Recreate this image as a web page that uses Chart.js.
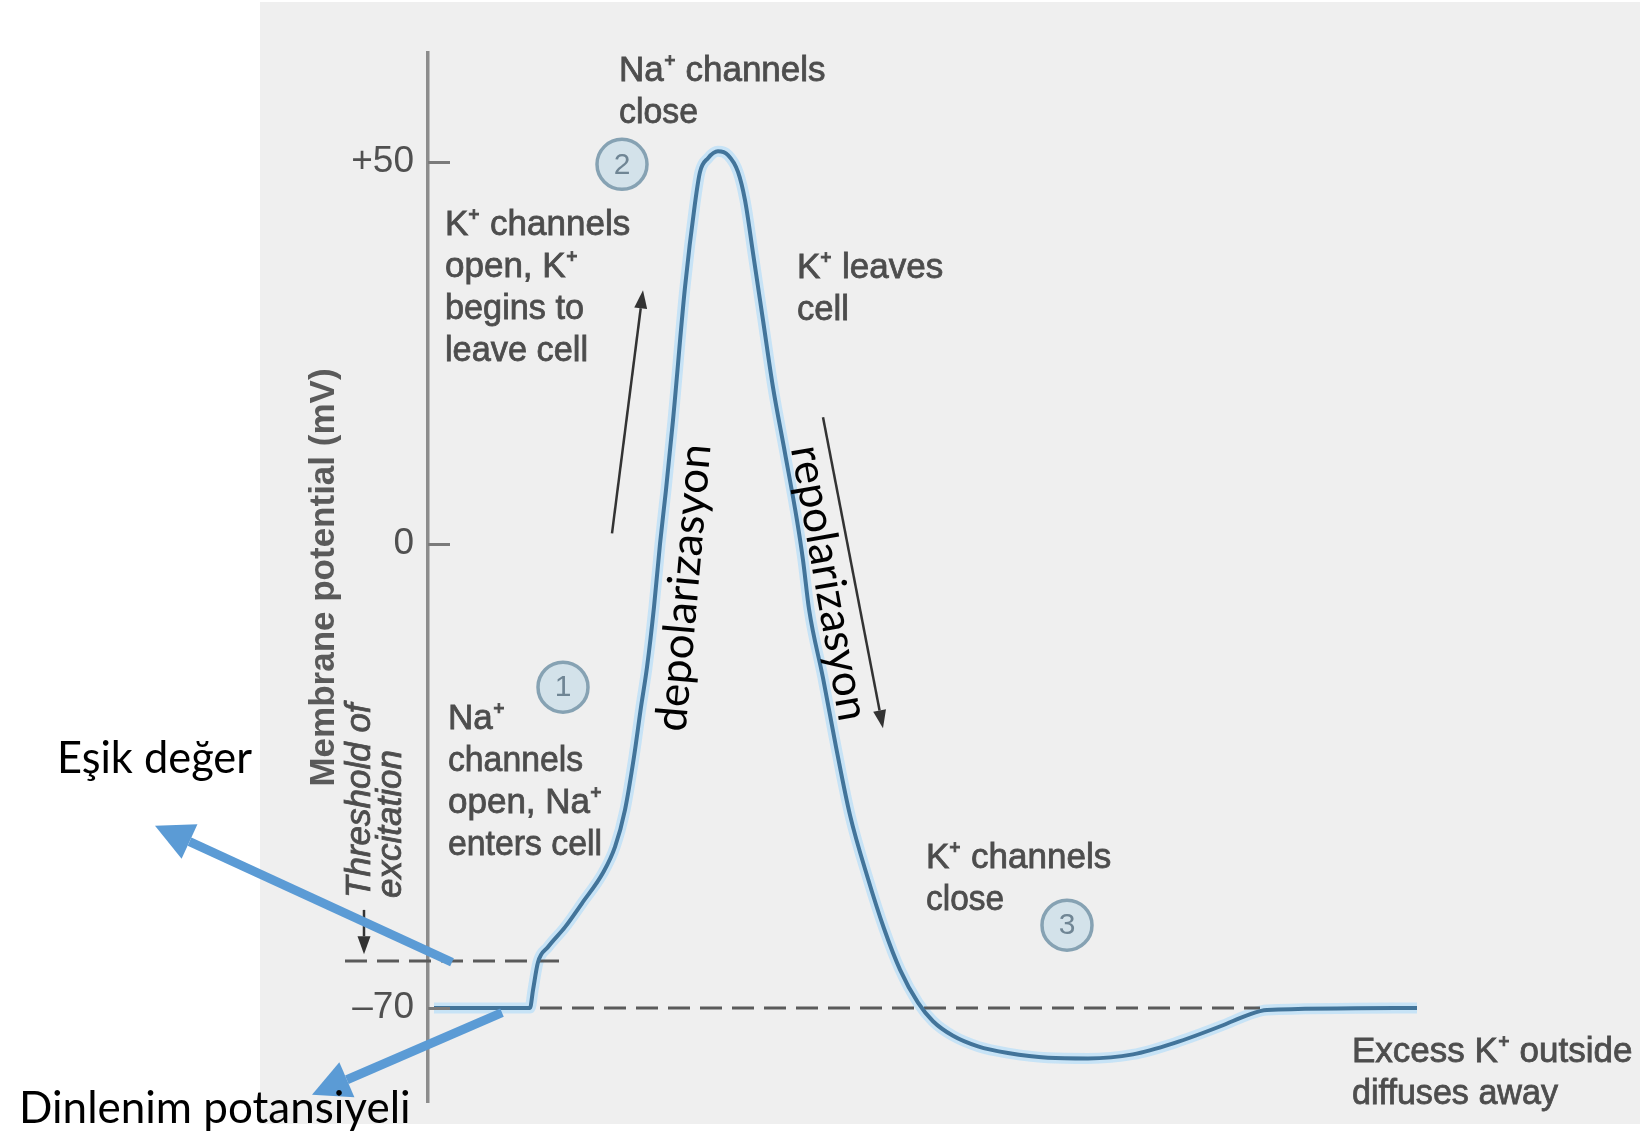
<!DOCTYPE html>
<html><head><meta charset="utf-8">
<script src="https://cdn.jsdelivr.net/npm/chart.js@4.4.1/dist/chart.umd.min.js"></script>
<style>html,body{margin:0;padding:0;background:#fff;overflow:hidden}</style>
</head><body>
<canvas id="c" width="1640" height="1134" style="width:1640px;height:1134px;display:block"></canvas>
<script>
// ---------- data (time in ms, membrane potential in mV) ----------
const timeMs = [0.06, 1.02, 1.05, 1.10, 1.20, 1.37, 1.54, 1.75, 1.87, 1.97, 2.06, 2.13, 2.19, 2.26, 2.32, 2.38, 2.45, 2.57, 2.67, 2.72, 2.80, 2.90, 3.00, 3.10, 3.17, 3.25, 3.35, 3.45, 3.57, 3.69, 3.75, 3.81, 3.95, 4.08, 4.22, 4.40, 4.56, 4.72, 4.90, 5.05, 5.25, 5.50, 5.80, 6.20, 6.60, 7.05, 7.46, 7.95, 8.19, 8.39, 9.89];
const potentialMv = [-70, -70, -67.3, -63.1, -60.8, -57.8, -54.2, -49.6, -45.7, -40.1, -32.1, -24.6, -18.6, -9.5, 0, 7.1, 16.2, 33.6, 44.6, 48.7, 50.5, 51.4, 50.9, 48.7, 45.0, 38.1, 29.3, 20.5, 11.9, 3.1, -2.4, -9.8, -20.2, -30.6, -40.9, -50.5, -58.0, -64.2, -69.2, -72.0, -74.2, -75.8, -76.8, -77.5, -77.6, -77.0, -75.3, -72.6, -71.1, -70.3, -70];
const restingMv = -70;
const restingLineMs = [1.12, 8.32];
const thresholdMv = -62.9;
const thresholdLineMs = [-0.83, 1.39];
const yTickValues = [-70, 0, 50];
const yTickLabels = ['\u201370', '0', '+50'];
const yAxisTitle = 'Membrane potential (mV)';

// ---------- scale with a stretched positive half (as in the drawing) ----------
class PiecewiseScale extends Chart.LinearScale {
  _warp(v) { const k = this.options.positiveStretch || 1; return v > 0 ? v * k : v; }
  _unwarp(w) { const k = this.options.positiveStretch || 1; return w > 0 ? w / k : w; }
  getPixelForValue(value) {
    if (value === null || isNaN(value)) return NaN;
    const a = this._warp(this.min), b = this._warp(this.max);
    return this.getPixelForDecimal((this._warp(value) - a) / (b - a));
  }
  getValueForPixel(pixel) {
    const a = this._warp(this.min), b = this._warp(this.max);
    return this._unwarp(a + this.getDecimalForPixel(pixel) * (b - a));
  }
}
PiecewiseScale.id = 'piecewise';
PiecewiseScale.defaults = Chart.LinearScale.defaults;
Chart.register(PiecewiseScale);

const curvePts = timeMs.map((t, i) => ({x: t, y: potentialMv[i]}));
const restPts = restingLineMs.map(t => ({x: t, y: restingMv}));
const thrPts = thresholdLineMs.map(t => ({x: t, y: thresholdMv}));

const SANS = "'Liberation Sans', Arial, sans-serif";
const TXT = '#4d4d4d';

// ---------- annotations (positions in data units: ms, mV) ----------
const textBlocks = [
  {lines: ['Na\u207A channels', 'close'], x: 1.91, y: 60.6, w: [210, 79]},
  {lines: ['K\u207A channels', 'open, K\u207A', 'begins to', 'leave cell'], x: 0.17, y: 40.4, w: [188, 134, 139, 143]},
  {lines: ['K\u207A leaves', 'cell'], x: 3.69, y: 34.8, w: [150, 52]},
  {lines: ['Na\u207A', 'channels', 'open, Na\u207A', 'enters cell'], x: 0.20, y: -27.9, w: [60, 135, 156, 154]},
  {lines: ['K\u207A channels', 'close'], x: 4.98, y: -48.9, w: [188, 78]},
  {lines: ['Excess K\u207A outside', 'diffuses away'], x: 9.24, y: -78.1, w: [281, 206]}
];
const stepCircles = [
  {n: '1', x: 1.35, y: -21.6},
  {n: '2', x: 1.94, y: 49.7},
  {n: '3', x: 6.39, y: -57.5}
];
const thinArrows = [
  {x1: 1.84, y1: 1.4, x2: 2.15, y2: 33.2},
  {x1: 3.95, y1: 16.6, x2: 4.55, y2: -27.8},
  {x1: -0.64, y1: -55.2, x2: -0.64, y2: -61.9}
];
const blueArrows = [
  {x1: 0.24, y1: -63.1, x2: -2.73, y2: -42.5},
  {x1: 0.74, y1: -70.7, x2: -1.16, y2: -83.1}
];
const rotatedLabels = [
  {text: 'depolarizasyon', x: 2.56, y: -6.6, angle: -85},
  {text: 'repolarizasyon', x: 4.01, y: -5.9, angle: 80}
];
const turkishLabels = [
  {text: 'E\u015Fik de\u011Fer', x: -3.71, y: -34.5, w: 195},
  {text: 'Dinlenim potansiyeli', x: -4.09, y: -87.3, w: 394}
];
const thresholdCaption = [
  {text: 'Threshold of', x: -0.68, y: -53.4},
  {text: 'excitation', x: -0.37, y: -53.4}
];

function arrow(ctx, x1, y1, x2, y2, color, lw, hl, hw) {
  const a = Math.atan2(y2 - y1, x2 - x1);
  const bx = x2 - hl * Math.cos(a), by = y2 - hl * Math.sin(a);
  ctx.strokeStyle = color; ctx.lineWidth = lw; ctx.lineCap = 'butt';
  ctx.beginPath(); ctx.moveTo(x1, y1); ctx.lineTo(bx, by); ctx.stroke();
  ctx.fillStyle = color; ctx.beginPath(); ctx.moveTo(x2, y2);
  ctx.lineTo(bx + hw / 2 * Math.sin(a), by - hw / 2 * Math.cos(a));
  ctx.lineTo(bx - hw / 2 * Math.sin(a), by + hw / 2 * Math.cos(a));
  ctx.closePath(); ctx.fill();
}

function heavyText(ctx, s, x, y, w) {
  if (w) { ctx.fillText(s, x, y, w); ctx.strokeText(s, x, y, w); }
  else { ctx.fillText(s, x, y); ctx.strokeText(s, x, y); }
}

const bgPlugin = {
  id: 'panelBg',
  beforeDraw(chart) {
    const {ctx, width, height} = chart;
    ctx.save();
    ctx.fillStyle = '#ffffff'; ctx.fillRect(0, 0, width, height);
    ctx.fillStyle = '#efefef'; ctx.fillRect(260, 2, width - 260, 1122);
    ctx.restore();
  }
};

const annotPlugin = {
  id: 'annot',
  afterDraw(chart) {
    const {ctx, chartArea} = chart;
    const xs = chart.scales.x, ys = chart.scales.y;
    const X = v => xs.getPixelForValue(v), Y = v => ys.getPixelForValue(v);
    ctx.save();
    // inward tick marks
    ctx.strokeStyle = '#7a7a7a'; ctx.lineWidth = 3;
    ys.ticks.forEach(t => {
      const p = Math.round(Y(t.value)) + 0.5;
      ctx.beginPath(); ctx.moveTo(chartArea.left, p); ctx.lineTo(chartArea.left + 22, p); ctx.stroke();
    });
    // grey figure text
    ctx.fillStyle = TXT; ctx.strokeStyle = TXT; ctx.lineWidth = 0.8;
    ctx.textAlign = 'left'; ctx.textBaseline = 'alphabetic';
    ctx.font = `35px ${SANS}`;
    textBlocks.forEach(b => {
      b.lines.forEach((ln, i) => heavyText(ctx, ln, X(b.x), Y(b.y) + i * 42, b.w[i]));
    });
    // threshold caption (rotated, italic)
    ctx.font = `italic 35px ${SANS}`;
    thresholdCaption.forEach(c => {
      ctx.save(); ctx.translate(X(c.x), Y(c.y)); ctx.rotate(-Math.PI / 2);
      ctx.textBaseline = 'middle'; heavyText(ctx, c.text, 0, 0); ctx.restore();
    });
    // numbered circles
    stepCircles.forEach(c => {
      ctx.beginPath(); ctx.arc(X(c.x), Y(c.y), 25, 0, Math.PI * 2);
      ctx.fillStyle = '#d3e2ea'; ctx.fill();
      ctx.strokeStyle = '#86a2b3'; ctx.lineWidth = 3.5; ctx.stroke();
      ctx.fillStyle = '#6f8594'; ctx.font = `30px ${SANS}`;
      ctx.textAlign = 'center'; ctx.textBaseline = 'middle';
      ctx.fillText(c.n, X(c.x), Y(c.y) + 1);
    });
    // thin black arrows
    thinArrows.forEach(a => arrow(ctx, X(a.x1), Y(a.y1), X(a.x2), Y(a.y2), '#333333', 2.5, 18, 13));
    // rotated Turkish phase labels
    ctx.fillStyle = '#000000'; ctx.font = `44px Lato, 'Open Sans', sans-serif`;
    ctx.textAlign = 'center'; ctx.textBaseline = 'middle';
    rotatedLabels.forEach(r => {
      ctx.save(); ctx.translate(X(r.x), Y(r.y)); ctx.rotate(r.angle * Math.PI / 180);
      ctx.fillText(r.text, 0, 0); ctx.restore();
    });
    // blue arrows + labels
    blueArrows.forEach(a => arrow(ctx, X(a.x1), Y(a.y1), X(a.x2), Y(a.y2), '#5b9bd5', 9, 38, 38));
    ctx.fillStyle = '#000000';
    ctx.textAlign = 'left'; ctx.textBaseline = 'alphabetic';
    ctx.font = `44px Lato, 'Open Sans', sans-serif`;
    turkishLabels.forEach(l => ctx.fillText(l.text, X(l.x), Y(l.y), l.w));
    ctx.restore();
  }
};

new Chart(document.getElementById('c'), {
  type: 'line',
  data: {
    datasets: [
      {label: 'Membrane potential', data: curvePts, borderColor: '#42749a', borderWidth: 4, pointRadius: 0,
       cubicInterpolationMode: 'monotone', order: 1},
      {label: 'glow', data: curvePts, borderColor: 'rgba(196,226,246,0.95)', borderWidth: 11, pointRadius: 0,
       cubicInterpolationMode: 'monotone', order: 3},
      {label: 'Resting potential', data: restPts, borderColor: '#5a5a5a', borderWidth: 3, borderDash: [22, 10],
       pointRadius: 0, order: 2},
      {label: 'Threshold', data: thrPts, borderColor: '#5a5a5a', borderWidth: 3, borderDash: [22, 10],
       pointRadius: 0, order: 2, clip: false}
    ]
  },
  options: {
    responsive: false, animation: false, events: [],
    layout: {padding: {left: 299, top: 53, right: 212, bottom: 32}},
    plugins: {legend: {display: false}, tooltip: {enabled: false}},
    scales: {
      x: {type: 'linear', display: false, min: 0, max: 10},
      y: {
        type: 'piecewise', positiveStretch: 7.64 / 6.629, min: -84.18, max: 64.27, bounds: 'data', position: 'left',
        afterFit: s => { s.width = 129; },
        afterBuildTicks: s => { s.ticks = yTickValues.map(v => ({value: v})); },
        grid: {display: false},
        border: {display: true, color: '#8c8c8c', width: 3.5},
        ticks: {
          callback: v => { const i = yTickValues.indexOf(v); return i >= 0 ? yTickLabels[i] : ''; },
          font: {family: SANS, size: 37, lineHeight: 1.0}, color: '#505050', padding: 6, autoSkip: false, maxRotation: 0
        },
        title: {display: true, text: yAxisTitle, font: {family: SANS, size: 35, weight: 'bold'}, color: '#5a5a5a', padding: {top: 4, bottom: 0}}
      }
    }
  },
  plugins: [bgPlugin, annotPlugin]
});
</script>
</body></html>
